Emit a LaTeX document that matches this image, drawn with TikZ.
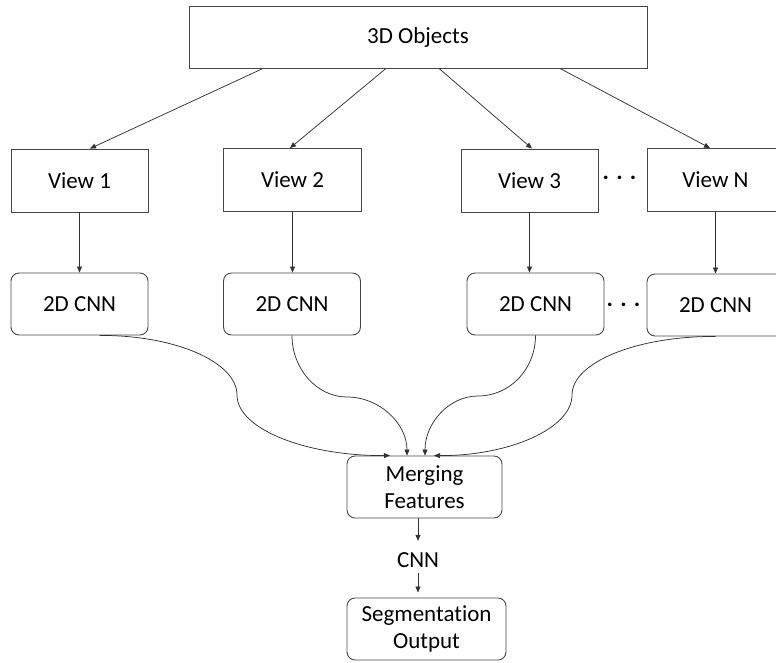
\documentclass[tikz,border=0pt]{standalone}
\usepackage{fontspec}
\setmainfont{Carlito}[Ligatures=NoCommon]
\usetikzlibrary{arrows.meta,calc}
\begin{document}
\begin{tikzpicture}[x=1pt,y=-1pt,
  box/.style={draw=black!72, line width=0.9pt, minimum width=137pt, minimum height=63pt,
              inner sep=0pt, font=\fontsize{23}{27}\selectfont, align=center, text=black},
  rbox/.style={box, rounded corners=8pt, minimum height=62pt},
  link/.style={draw=black!80, line width=0.75pt, -{Triangle[length=6pt,width=5pt]}},
  ellip/.style={font=\fontsize{24}{27}\selectfont\bfseries, inner sep=0pt}]
\useasboundingbox (0,0) rectangle (776,662);
\fill[white] (0,0) rectangle (776,662);

% source
\node[box, minimum width=458pt, minimum height=62pt] (obj) at (418,37) {3D Objects};

% rendered views
\node[box] (v1) at (79.5,180.5) {View 1};
\node[box, minimum width=138pt] (v2) at (292.5,180) {View 2};
\node[box] (v3) at (529.5,180.5) {View 3};
\node[box] (vN) at (715.5,180) {View N};
\node[ellip] (d1) at (619.5,178) {. . .};

% per-view networks
\node[rbox] (c1) at (79.5,304) {2D CNN};
\node[rbox] (c2) at (292,304) {2D CNN};
\node[rbox] (c3) at (535.5,304) {2D CNN};
\node[rbox] (c4) at (715.5,305) {2D CNN};
\node[ellip] (d2) at (623.5,305) {. . .};

% fusion and output
\node[rbox, minimum width=155pt] (merge) at (424.5,487) {Merging\\Features};
\node[font=\fontsize{23}{27}\selectfont, inner sep=0pt, minimum height=40pt] (cnn) at (418,560) {CNN};
\node[rbox, minimum width=159pt] (seg) at (426.5,629) {Segmentation\\Output};

% object -> views
\draw[link] ([xshift=-155pt]obj.south) -- ([xshift=10.5pt]v1.north);
\draw[link] ([xshift=-32pt]obj.south) -- ([xshift=-2.5pt]v2.north);
\draw[link] ([xshift=21pt]obj.south) -- ([xshift=2.5pt]v3.north);
\draw[link] ([xshift=142pt]obj.south) -- ([xshift=-5.5pt]vN.north);

% views -> CNNs
\draw[link] (v1.south) -- (v1.south |- c1.north);
\draw[link] (v2.south) -- (v2.south |- c2.north);
\draw[link] (v3.south) -- (v3.south |- c3.north);
\draw[link] (vN.south) -- (vN.south |- c4.north);

% CNNs -> merging
\draw[link] ([xshift=20pt]c1.south) .. controls (175,335) and (237,362) .. (237,395)
            .. controls (237,429) and (306,456) .. ([xshift=-34.5pt]merge.north);
\draw[link] (c2.south) .. controls (292,369) and (317,397) .. (347,397)
            .. controls (380,397) and (407,424) .. ([xshift=-17.5pt]merge.north);
\draw[link] (c3.south) .. controls (535.5,369) and (510,396) .. (478,396)
            .. controls (449,396) and (425,423) .. ([xshift=0.5pt]merge.north);
\draw[link] (c4.south) .. controls (636.6,336) and (572,362.5) .. (572,395)
            .. controls (572,428.5) and (509,456) .. ([xshift=9.5pt]merge.north);

% merging -> output
\draw[link] ([xshift=-6.5pt]merge.south) -- ([yshift=-1pt]cnn.north);
\draw[link] ([yshift=7pt]cnn.south) -- ([xshift=-8.5pt,yshift=5pt]seg.north);
\end{tikzpicture}
\end{document}
